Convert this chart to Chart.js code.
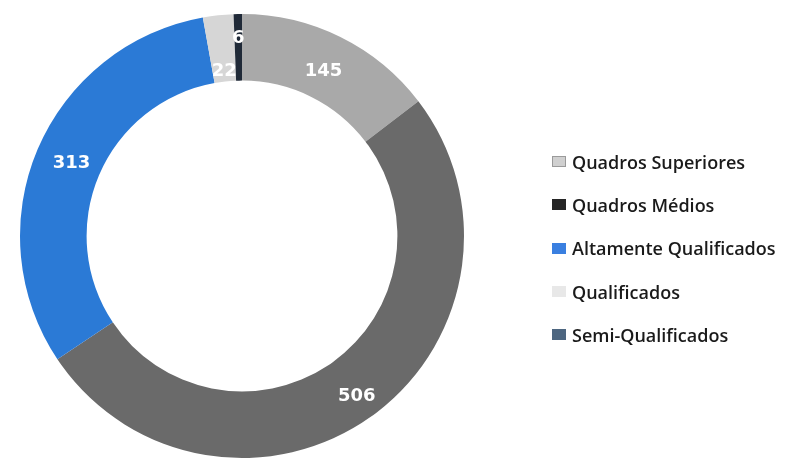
<!DOCTYPE html>
<html>
<head>
<meta charset="utf-8">
<script src="https://cdn.jsdelivr.net/npm/chart.js@4/dist/chart.umd.min.js"></script>
<style>
  html, body { margin: 0; padding: 0; background: #fff; }
  #wrap { position: relative; width: 791px; height: 460px; }
  #chart { position: absolute; left: 0; top: 0; }
  #legend { position: absolute; left: 552px; top: 140px; font-family: "Open Sans", sans-serif; font-weight: 600; font-size: 18px; color: #1a1a1a; }
  .item { height: 43.3px; display: flex; align-items: center; white-space: nowrap; }
  .sw { width: 14px; height: 11px; margin-right: 6px; box-sizing: border-box; }
</style>
</head>
<body>
<div id="wrap">
  <canvas id="chart" width="791" height="460"></canvas>
  <div id="legend"></div>
</div>
<script>
// Staff by qualification level
const categories = ["Quadros Superiores", "Quadros Médios", "Altamente Qualificados", "Qualificados", "Semi-Qualificados"];
const headcount = [145, 506, 313, 22, 6];
const sliceColors = ["#a9a9a9", "#6a6a6a", "#2b7ad6", "#d6d6d6", "#202a38"];
const legendColors = ["#d0d0d0", "#262626", "#3a7fe0", "#e8e8e8", "#4d6680"];

// Where each value label sits across the ring (0 = inner edge, 1 = outer edge)
const labelRadius = [0.43, 0.63, 0.45, 0.15, 0.64];

const valueLabels = {
  id: "valueLabels",
  afterDatasetsDraw(chart) {
    const ctx = chart.ctx;
    const meta = chart.getDatasetMeta(0);
    ctx.save();
    ctx.fillStyle = "#ffffff";
    ctx.font = "bold 18px 'DejaVu Sans', sans-serif";
    ctx.textAlign = "center";
    ctx.textBaseline = "middle";
    meta.data.forEach((arc, i) => {
      const p = arc.getProps(["x", "y", "startAngle", "endAngle", "innerRadius", "outerRadius"], true);
      const a = (p.startAngle + p.endAngle) / 2;
      const r = p.innerRadius + (p.outerRadius - p.innerRadius) * labelRadius[i];
      ctx.fillText(String(chart.data.datasets[0].data[i]), p.x + Math.cos(a) * r, p.y + Math.sin(a) * r);
    });
    ctx.restore();
  }
};

new Chart(document.getElementById("chart"), {
  type: "doughnut",
  data: {
    labels: categories,
    datasets: [{
      data: headcount,
      backgroundColor: sliceColors,
      borderWidth: 0
    }]
  },
  options: {
    responsive: false,
    animation: false,
    cutout: "70%",
    layout: { padding: { left: 19, right: 326, top: 14, bottom: 2 } },
    plugins: {
      legend: { display: false },
      tooltip: { enabled: false }
    }
  },
  plugins: [valueLabels]
});

const legend = document.getElementById("legend");
categories.forEach((name, i) => {
  const row = document.createElement("div");
  row.className = "item";
  const sw = document.createElement("span");
  sw.className = "sw";
  sw.style.background = legendColors[i];
  if (i === 0) sw.style.border = "1px solid #9a9a9a";
  const t = document.createElement("span");
  t.textContent = name;
  row.appendChild(sw);
  row.appendChild(t);
  legend.appendChild(row);
});
</script>
</body>
</html>
